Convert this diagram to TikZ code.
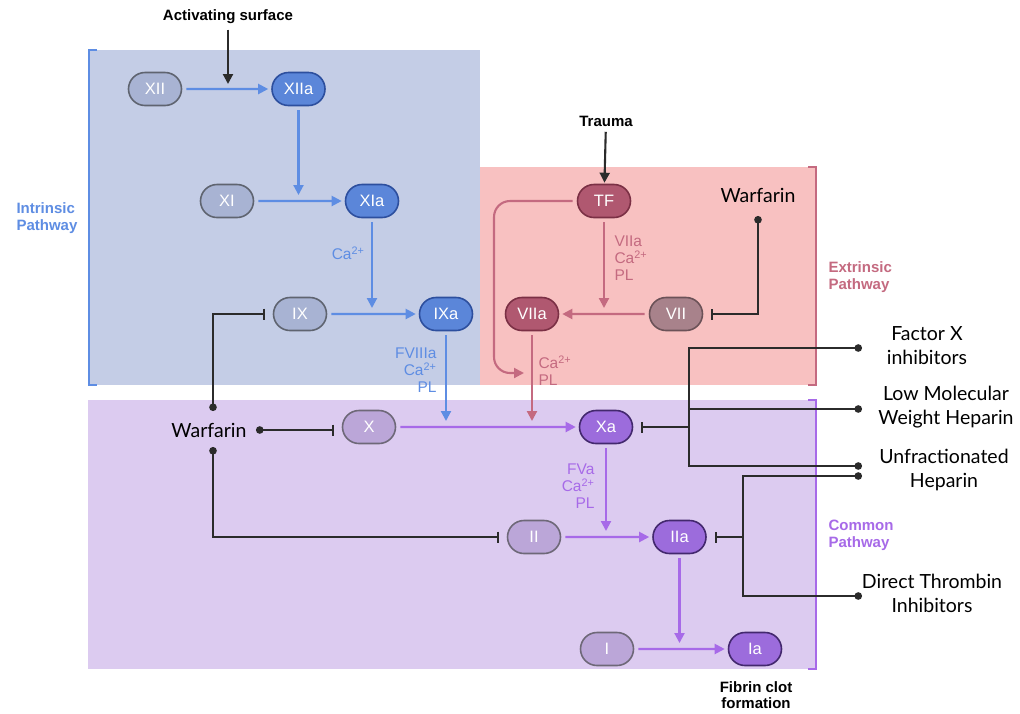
\documentclass[tikz,border=0pt]{standalone}
\usepackage{fontspec}
\setmainfont{Liberation Sans}
\newfontfamily\lato{Lato}
\usetikzlibrary{arrows.meta,shapes.misc}
\definecolor{inbg}{HTML}{C4CDE6}
\definecolor{exbg}{HTML}{F8C1C1}
\definecolor{cobg}{HTML}{DCCBF0}
\definecolor{blueL}{HTML}{5E8DE3}
\definecolor{blueN}{HTML}{5B86D9}
\definecolor{blueB}{HTML}{2D4F9E}
\definecolor{grayN}{HTML}{A8B3D3}
\definecolor{grayB}{HTML}{5F6470}
\definecolor{pinkL}{HTML}{C46A80}
\definecolor{pinkN}{HTML}{B05870}
\definecolor{pinkB}{HTML}{7B3045}
\definecolor{mauveN}{HTML}{A8828B}
\definecolor{mauveB}{HTML}{6B5258}
\definecolor{purpL}{HTML}{A76AE8}
\definecolor{purpN}{HTML}{9C6CDC}
\definecolor{purpB}{HTML}{43286E}
\definecolor{lavN}{HTML}{BBA6D8}
\definecolor{lavB}{HTML}{6E6878}
\definecolor{inkC}{HTML}{2B2B2B}
\tikzset{
  pill/.style={rounded rectangle, minimum width=53pt, minimum height=33pt, inner sep=0pt,
    line width=1.6pt, text=white, font=\fontsize{16.5}{18}\selectfont},
  pgray/.style={pill, draw=grayB, fill=grayN},
  pblue/.style={pill, draw=blueB, fill=blueN},
  ppink/.style={pill, draw=pinkB, fill=pinkN},
  pmauve/.style={pill, draw=mauveB, fill=mauveN},
  plav/.style={pill, draw=lavB, fill=lavN},
  ppurp/.style={pill, draw=purpB, fill=purpN},
  conn/.style={line width=2.1pt, -{Triangle[length=10pt,width=10pt]}, shorten <=4pt, shorten >=3pt},
  bluearr/.style={conn, draw=blueL},
  pinkarr/.style={conn, draw=pinkL},
  purparr/.style={conn, draw=purpL},
  blkarr/.style={line width=2.1pt, draw=inkC, -{Triangle[length=10pt,width=10pt]}, shorten <=2pt, shorten >=1pt},
  inh/.style={line width=2.1pt, draw=inkC},
  dotbar/.style={inh, {Circle[length=7.5pt]}-{Bar[width=11pt,line width=2.1pt]}, shorten >=8pt},
  barend/.style={inh, -{Bar[width=11pt,line width=2.1pt]}, shorten >=8pt},
  dotline/.style={inh, {Circle[length=7.5pt]}-},
  dotdot/.style={inh, {Circle[length=7.5pt]}-{Circle[length=7.5pt]}},
  rlab/.style={font=\fontsize{15.5}{17}\selectfont, align=right, anchor=east},
  llab/.style={font=\fontsize{15.5}{17}\selectfont, align=left, anchor=west},
  pathlab/.style={font=\bfseries\fontsize{15}{17}\selectfont, align=left, anchor=west},
  blab/.style={font=\bfseries\fontsize{15}{16}\selectfont, align=center, text=black},
  drug/.style={font=\lato\fontsize{19.5}{24}\selectfont, align=center, text=black},
}
\begin{document}
\begin{tikzpicture}[x=1pt,y=-1pt]
\useasboundingbox (0,0) rectangle (1020,713);
\fill[white] (0,0) rectangle (1020,713);
% backgrounds
\fill[inbg] (88,50) rectangle (480,385);
\fill[exbg] (480,167) rectangle (816,385);
\fill[cobg] (88,400) rectangle (816,669);
% brackets
\draw[blueL, line width=1.8pt] (97,50) -- (89,50) -- (89,385) -- (97,385);
\draw[pinkL, line width=1.8pt] (808,167) -- (816,167) -- (816,385) -- (808,385);
\draw[purpL, line width=1.8pt] (808,400) -- (816,400) -- (816,669) -- (808,669);
% pathway labels
\node[pathlab, text=blueL] (lin) at (13,218) {Intrinsic\\Pathway};
\node[pathlab, text=pinkL] (lex) at (825,277) {Extrinsic\\Pathway};
\node[pathlab, text=purpL] (lco) at (825,535) {Common\\Pathway};
% nodes
\node[pgray] (XII) at (155,89) {XII};
\node[pblue] (XIIa) at (298.5,89) {XIIa};
\node[pgray] (XI) at (227,201) {XI};
\node[pblue] (XIa) at (372,201) {XIa};
\node[pgray] (IX) at (300,314) {IX};
\node[pblue] (IXa) at (446,314) {IXa};
\node[ppink] (TF) at (604,201) {TF};
\node[ppink] (VIIa) at (532,314) {VIIa};
\node[pmauve] (VII) at (676,314) {VII};
\node[plav] (X) at (369,427) {X};
\node[ppurp] (Xa) at (606,427) {Xa};
\node[plav] (II) at (534,537) {II};
\node[ppurp] (IIa) at (679.5,537) {IIa};
\node[plav] (I) at (607,649) {I};
\node[ppurp] (Ia) at (755,649) {Ia};
% top labels
\node[blab] (act) at (228,17) {Activating surface};
\node[blab] (trauma) at (606,121) {Trauma};
\node[blab] (fib) at (756,695) {Fibrin clot\\formation};
% junction coordinates
\coordinate (j0) at (228,85);
\coordinate (j1) at (298.5,198);
\coordinate (j2) at (372,311);
\coordinate (j3) at (446,424);
\coordinate (j4) at (604,311);
\coordinate (j5) at (527,373);
\coordinate (j6) at (532,424);
\coordinate (j7) at (606,534);
\coordinate (j8) at (679.5,646);
% intrinsic arrows
\draw[blkarr] (act) -- (j0);
\draw[bluearr] (XII) -- (XIIa);
\draw[bluearr] (XIIa) -- (j1);
\draw[bluearr] (XI) -- (XIa);
\draw[bluearr] (XIa) -- (j2);
\draw[bluearr] (IX) -- (IXa);
\draw[bluearr] (IXa) -- (j3);
\node[rlab, text=blueL] (lca1) at (368,253) {Ca\textsuperscript{2+}};
\node[rlab, text=blueL] (lf8) at (440,370) {FVIIIa\\Ca\textsuperscript{2+}\\PL};
% extrinsic arrows
\draw[blkarr] (trauma) -- (TF);
\draw[pinkarr] (TF) -- (j4);
\draw[pinkarr] (VII) -- (VIIa);
\draw[pinkarr, rounded corners=16pt] (TF.west) -- (494,201) -- (494,373) -- (j5);
\draw[pinkarr] (VIIa) -- (j6);
\node[llab, text=pinkL] (l7a) at (611,258) {VIIa\\Ca\textsuperscript{2+}\\PL};
\node[llab, text=pinkL] (lcapl) at (535,371) {Ca\textsuperscript{2+}\\PL};
% common arrows
\draw[purparr] (X) -- (Xa);
\draw[purparr] (Xa) -- (j7);
\draw[purparr] (II) -- (IIa);
\draw[purparr] (IIa) -- (j8);
\draw[purparr] (I) -- (Ia);
\node[rlab, text=purpL] (lf5) at (598,486) {FVa\\Ca\textsuperscript{2+}\\PL};
% warfarin (common)
\node[drug] (warf) at (209,430) {Warfarin};
\coordinate (wT) at (213,411);
\coordinate (wR) at (256,430);
\coordinate (wB) at (213,447);
\draw[dotbar] (wT) |- (IX.west);
\draw[dotbar] (wR) -- (X.west |- wR);
\draw[dotbar] (wB) |- (II.west);
% warfarin (extrinsic)
\node[drug] (warf2) at (758,195) {Warfarin};
\coordinate (wx) at (758,216);
\draw[dotbar] (wx) |- (VII.east);
% right-side drugs
\node[drug] (fxi) at (927,346) {Factor X\\inhibitors};
\node[drug] (lmwh) at (946,407) {Low Molecular\\Weight Heparin};
\node[drug] (ufh) at (944,470) {Unfractionated\\Heparin};
\node[drug] (dti) at (932,593) {Direct Thrombin\\Inhibitors};
\coordinate (dFX) at (862,348);
\coordinate (dLM) at (862,409);
\coordinate (dUF) at (862,466);
\coordinate (dUF2) at (862,476);
\coordinate (dDT) at (862,596);
\coordinate (k1) at (689,348);
\coordinate (k2) at (689,466);
\coordinate (k3) at (743,476);
\coordinate (k4) at (743,596);
\draw[dotdot] (dFX) -- (k1) -- (k2) -- (dUF);
\draw[dotline] (dLM) -- (k1 |- dLM);
\draw[barend] (k1 |- Xa.east) -- (Xa.east);
\draw[dotdot] (dUF2) -- (k3) -- (k4) -- (dDT);
\draw[barend] (k3 |- IIa.east) -- (IIa.east);
\end{tikzpicture}
\end{document}
